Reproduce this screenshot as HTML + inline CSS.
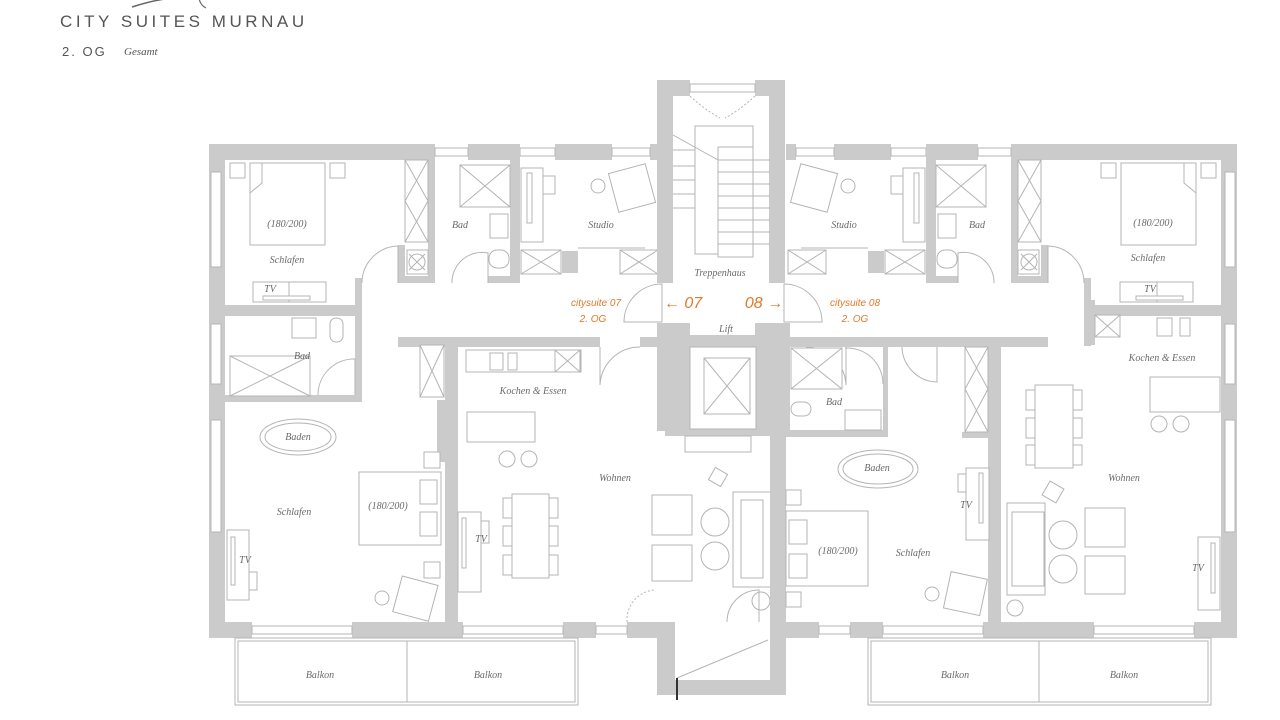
<!DOCTYPE html>
<html><head><meta charset="utf-8"><style>
html,body{margin:0;padding:0;background:#fff;width:1280px;height:720px;overflow:hidden}
svg{display:block}
.w{fill:#cbcbcb}
.l{fill:none;stroke:#b4b4b4;stroke-width:1}
.f{fill:#fff;stroke:#b4b4b4;stroke-width:1}
.t{font-family:"Liberation Serif",serif;font-style:italic;font-size:10px;fill:#6a6a6a;text-anchor:middle}
.o{font-family:"Liberation Sans",sans-serif;font-style:italic;fill:#e07a2a;text-anchor:middle}
</style></head><body>
<svg width="1280" height="720" viewBox="0 0 1280 720" xmlns="http://www.w3.org/2000/svg">
<path d="M132 7 Q160 -2 178 -2" class="l" style="stroke:#666;stroke-width:1.5"/>
<path d="M199 -2 Q200 5 206 8" class="l" style="stroke:#666;stroke-width:1.2"/>
<text x="60" y="27" font-family="Liberation Sans,sans-serif" font-size="17" fill="#555" letter-spacing="3.9" textLength="248">CITY SUITES MURNAU</text>
<text x="62" y="56" font-family="Liberation Sans,sans-serif" font-size="13" fill="#555" letter-spacing="2">2. OG</text>
<text x="124" y="55" font-family="Liberation Serif,serif" font-style="italic" font-size="11" fill="#555">Gesamt</text>

<g id="half">
 <rect class="w" x="209" y="144" width="226" height="16"/>
 <rect class="w" x="468" y="144" width="52" height="16"/>
 <rect class="w" x="555" y="144" width="57" height="16"/>
 <rect class="w" x="650" y="144" width="10" height="16"/>
 <rect class="f" x="435" y="148" width="33" height="8"/>
 <rect class="f" x="520" y="148" width="35" height="8"/>
 <rect class="f" x="612" y="148" width="38" height="8"/>
 <rect class="w" x="209" y="144" width="16" height="494"/>
 <rect class="f" x="211" y="172" width="10" height="95"/>
 <rect class="f" x="211" y="324" width="10" height="60"/>
 <rect class="f" x="211" y="420" width="10" height="112"/>
 <rect class="w" x="225" y="305" width="130" height="11"/>
 <rect class="w" x="355" y="278" width="7" height="68"/>
 <rect class="w" x="428" y="160" width="7" height="122"/>
 <rect class="w" x="398" y="245" width="7" height="38"/>
 <rect class="w" x="398" y="276" width="37" height="7"/>
 <rect class="w" x="510" y="144" width="10" height="139"/>
 <rect class="w" x="488" y="276" width="32" height="7"/>
 <rect class="w" x="562" y="251" width="16" height="22"/>
 <rect class="w" x="398" y="337" width="202" height="10"/>
 <rect class="w" x="640" y="337" width="25" height="10"/>
 <rect class="w" x="209" y="622" width="43" height="16"/>
 <rect class="w" x="352" y="622" width="111" height="16"/>
 <rect class="w" x="563" y="622" width="33" height="16"/>
 <rect class="w" x="627" y="622" width="33" height="16"/>
 <rect class="f" x="252" y="626" width="100" height="8"/>
 <rect class="f" x="463" y="626" width="100" height="8"/>
 <rect class="f" x="596" y="626" width="31" height="8"/>
 <rect class="f" x="235" y="638" width="343" height="67"/>
 <rect class="l" x="238" y="641" width="337" height="61"/>
 <line class="l" x1="407" y1="641" x2="407" y2="702"/>
 <rect class="f" x="230" y="163" width="15" height="15"/>
 <rect class="f" x="330" y="163" width="15" height="15"/>
 <rect class="f" x="260" y="165" width="22" height="20"/>
 <rect class="f" x="293" y="165" width="22" height="20"/>
 <rect class="f" x="250" y="163" width="75" height="82"/>
 <path class="l" d="M250 193 L262 183 L262 163"/>
 <rect class="f" x="253" y="282" width="73" height="20"/>
 <line class="l" x1="289" y1="282" x2="289" y2="302"/>
 <rect class="f" x="263" y="296" width="47" height="4"/>
 <rect class="f" x="405" y="160" width="23" height="82"/>
 <path class="l" d="M405 160 L428 201 L405 242 M428 160 L405 201 L428 242"/>
 <rect class="f" x="407" y="250" width="21" height="24"/>
 <circle class="l" cx="417" cy="262" r="8"/><path class="l" d="M409 254 L425 270 M425 254 L409 270"/>
 <rect class="f" x="460" y="165" width="50" height="42"/>
 <path class="l" d="M460 165 L510 207 M510 165 L460 207"/>
 <rect class="f" x="490" y="214" width="18" height="24"/>
 <rect class="f" x="489" y="250" width="20" height="18" rx="8"/>
 <path class="l" d="M452 283 A30 30 0 0 1 488 253 L488 283"/>
 <path class="l" d="M362 283 A37 37 0 0 1 398 246 L398 283"/>
 <rect class="f" x="521" y="168" width="22" height="74"/>
 <rect class="f" x="527" y="173" width="5" height="50"/>
 <rect class="f" x="543" y="176" width="12" height="18"/>
 <circle class="l" cx="598" cy="186" r="7"/>
 <rect class="f" x="613" y="168" width="38" height="40" transform="rotate(-15 632 188)"/>
 <rect class="f" x="521" y="250" width="40" height="24"/><path class="l" d="M521 250 L561 274 M561 250 L521 274"/>
 <rect class="f" x="620" y="250" width="38" height="24"/><path class="l" d="M620 250 L658 274 M658 250 L620 274"/>
 <line class="l" x1="578" y1="248" x2="645" y2="248"/>
 <path class="l" d="M624 322 A38 38 0 0 1 662 284 L662 322 Z"/>
 <path class="l" d="M600 347 L600 385 A40 40 0 0 1 640 347"/>
</g>
<use href="#half" transform="translate(1446,0) scale(-1,1)"/>

<rect class="w" x="355" y="316" width="7" height="86"/>
<rect class="w" x="225" y="395" width="137" height="7"/>
<rect class="f" x="230" y="356" width="80" height="40"/><path class="l" d="M230 356 L310 396 M310 356 L230 396"/>
<rect class="f" x="292" y="318" width="24" height="20"/>
<rect class="f" x="330" y="318" width="13" height="24" rx="6"/>
<path class="l" d="M318 395 A36 36 0 0 1 355 359 L355 395"/>
<rect class="w" x="445" y="340" width="13" height="282"/>
<rect class="w" x="437" y="400" width="10" height="62"/>
<rect class="f" x="420" y="345" width="24" height="52"/><path class="l" d="M420 345 L444 397 M444 345 L420 397"/>
<rect class="f" x="466" y="350" width="115" height="22"/>
<rect class="f" x="490" y="353" width="13" height="17"/><rect class="f" x="508" y="353" width="9" height="17"/>
<rect class="f" x="555" y="350" width="25" height="22"/><path class="l" d="M555 350 L580 372 M580 350 L555 372"/>
<ellipse class="f" cx="298" cy="437" rx="38" ry="18"/><ellipse class="l" cx="298" cy="437" rx="33" ry="14"/>
<rect class="f" x="424" y="452" width="16" height="16"/>
<rect class="f" x="359" y="472" width="82" height="73"/>
<rect class="f" x="420" y="480" width="17" height="24"/><rect class="f" x="420" y="512" width="17" height="24"/>
<rect class="f" x="424" y="562" width="16" height="16"/>
<rect class="f" x="227" y="530" width="22" height="70"/><rect class="f" x="231" y="537" width="4" height="48"/>
<rect class="f" x="249" y="572" width="8" height="18"/>
<circle class="l" cx="382" cy="598" r="7"/>
<rect class="f" x="397" y="580" width="37" height="37" transform="rotate(15 415 598)"/>
<rect class="f" x="467" y="412" width="68" height="30"/>
<circle class="l" cx="507" cy="459" r="8"/><circle class="l" cx="529" cy="459" r="8"/>
<rect class="f" x="458" y="512" width="23" height="80"/><rect class="f" x="462" y="518" width="4" height="50"/>
<rect class="f" x="481" y="521" width="8" height="22"/>
<rect class="f" x="512" y="494" width="37" height="84"/>
<rect class="f" x="503" y="498" width="9" height="20"/><rect class="f" x="503" y="526" width="9" height="20"/><rect class="f" x="503" y="555" width="9" height="20"/>
<rect class="f" x="549" y="498" width="9" height="20"/><rect class="f" x="549" y="526" width="9" height="20"/><rect class="f" x="549" y="555" width="9" height="20"/>
<rect class="f" x="711" y="470" width="14" height="14" transform="rotate(30 718 477)"/>
<rect class="f" x="652" y="495" width="40" height="40"/><rect class="f" x="652" y="545" width="40" height="36"/>
<circle class="l" cx="715" cy="522" r="14"/><circle class="l" cx="715" cy="556" r="14"/>
<rect class="f" x="733" y="492" width="38" height="95"/>
<rect class="f" x="741" y="500" width="22" height="78"/>
<circle class="l" cx="761" cy="601" r="9"/>
<path class="l" d="M727 622 A32 32 0 0 1 759 590 L759 622"/>
<path class="l" d="M627 622 A30 30 0 0 1 654 590" stroke-dasharray="2 2"/>

<rect class="w" x="657" y="80" width="33" height="16"/>
<rect class="w" x="755" y="80" width="30" height="16"/>
<rect class="f" x="690" y="84" width="65" height="8"/>
<rect class="w" x="657" y="80" width="16" height="203"/>
<rect class="w" x="769" y="80" width="16" height="203"/>
<rect class="w" x="657" y="323" width="33" height="108"/>
<rect class="w" x="755" y="323" width="35" height="108"/>
<rect class="w" x="687" y="335" width="72" height="12"/>
<rect class="w" x="665" y="428" width="120" height="8"/>
<rect class="w" x="770" y="428" width="16" height="200"/>
<rect class="f" x="690" y="347" width="66" height="82"/>
<rect class="f" x="704" y="358" width="46" height="56"/><path class="l" d="M704 358 L750 414 M750 358 L704 414"/>
<rect class="f" x="685" y="436" width="66" height="16"/>
<rect class="f" x="695" y="126" width="58" height="128"/>
<rect class="f" x="718" y="147" width="35" height="110"/>
<g class="l">
<line x1="718" y1="160" x2="770" y2="160"/><line x1="718" y1="172" x2="770" y2="172"/><line x1="718" y1="184" x2="770" y2="184"/><line x1="718" y1="196" x2="770" y2="196"/><line x1="718" y1="208" x2="770" y2="208"/><line x1="718" y1="220" x2="770" y2="220"/><line x1="718" y1="232" x2="770" y2="232"/><line x1="718" y1="244" x2="770" y2="244"/>
<line x1="673" y1="150" x2="695" y2="150"/><line x1="673" y1="166" x2="695" y2="166"/><line x1="673" y1="180" x2="695" y2="180"/><line x1="673" y1="194" x2="695" y2="194"/><line x1="673" y1="208" x2="695" y2="208"/>
<line x1="673" y1="135" x2="718" y2="160"/>
<path d="M690 96 Q705 110 720 118 M755 96 Q740 110 725 118" stroke-dasharray="2 2"/>
</g>
<rect class="w" x="657" y="622" width="18" height="73"/>
<rect class="w" x="770" y="622" width="16" height="73"/>
<rect class="w" x="657" y="680" width="129" height="15"/>
<line class="l" x1="677" y1="678" x2="768" y2="640"/>
<line x1="677" y1="678" x2="677" y2="700" stroke="#333" stroke-width="2"/>

<rect class="w" x="785" y="337" width="117" height="10"/>
<rect class="w" x="937" y="337" width="111" height="10"/>
<rect class="w" x="883" y="347" width="5" height="90"/>
<rect class="w" x="785" y="430" width="103" height="7"/>
<rect class="w" x="988" y="340" width="13" height="282"/>
<rect class="w" x="962" y="432" width="28" height="6"/>
<rect class="f" x="965" y="347" width="23" height="85"/><path class="l" d="M965 347 L988 389 L965 432 M988 347 L965 389 L988 432"/>
<rect class="f" x="791" y="348" width="51" height="41"/><path class="l" d="M791 348 L842 389 M842 348 L791 389"/>
<rect class="f" x="791" y="402" width="20" height="14" rx="7"/>
<rect class="f" x="845" y="410" width="36" height="20"/>
<path class="l" d="M845 348 A36 36 0 0 1 883 384"/>
<path class="l" d="M902 347 A36 36 0 0 0 937 382 L937 347"/>
<ellipse class="f" cx="878" cy="469" rx="40" ry="19"/><ellipse class="l" cx="878" cy="469" rx="35" ry="15"/>
<rect class="f" x="786" y="490" width="15" height="15"/>
<rect class="f" x="786" y="511" width="82" height="75"/>
<rect class="f" x="789" y="520" width="18" height="24"/><rect class="f" x="789" y="554" width="18" height="24"/>
<rect class="f" x="786" y="592" width="15" height="15"/>
<rect class="f" x="966" y="468" width="23" height="72"/><rect class="f" x="979" y="473" width="4" height="50"/>
<rect class="f" x="958" y="474" width="8" height="18"/>
<circle class="l" cx="932" cy="594" r="7"/>
<rect class="f" x="947" y="575" width="37" height="37" transform="rotate(12 965 593)"/>
<rect class="w" x="1087" y="300" width="8" height="45"/>
<rect class="f" x="1095" y="315" width="25" height="22"/><path class="l" d="M1095 315 L1120 337 M1120 315 L1095 337"/>
<rect class="f" x="1157" y="318" width="15" height="18"/><rect class="f" x="1180" y="318" width="10" height="18"/>
<rect class="f" x="1150" y="377" width="70" height="35"/>
<circle class="l" cx="1159" cy="424" r="8"/><circle class="l" cx="1181" cy="424" r="8"/>
<rect class="f" x="1035" y="385" width="38" height="83"/>
<rect class="f" x="1026" y="390" width="9" height="20"/><rect class="f" x="1026" y="418" width="9" height="20"/><rect class="f" x="1026" y="445" width="9" height="20"/>
<rect class="f" x="1073" y="390" width="9" height="20"/><rect class="f" x="1073" y="418" width="9" height="20"/><rect class="f" x="1073" y="445" width="9" height="20"/>
<rect class="f" x="1045" y="484" width="16" height="16" transform="rotate(30 1053 492)"/>
<rect class="f" x="1007" y="503" width="38" height="92"/><rect class="f" x="1012" y="512" width="32" height="74"/>
<circle class="l" cx="1063" cy="535" r="14"/><circle class="l" cx="1063" cy="569" r="14"/>
<rect class="f" x="1085" y="508" width="40" height="39"/><rect class="f" x="1085" y="556" width="40" height="38"/>
<circle class="l" cx="1015" cy="608" r="8"/>
<rect class="f" x="1198" y="537" width="22" height="73"/><rect class="f" x="1211" y="543" width="4" height="50"/>

<g class="t">
<text x="287" y="227">(180/200)</text><text x="287" y="263">Schlafen</text><text x="270" y="292">TV</text>
<text x="460" y="228">Bad</text><text x="601" y="228">Studio</text><text x="302" y="359">Bad</text>
<text x="533" y="394">Kochen &amp; Essen</text><text x="298" y="440">Baden</text>
<text x="388" y="509">(180/200)</text><text x="294" y="515">Schlafen</text><text x="245" y="563">TV</text>
<text x="481" y="542">TV</text><text x="615" y="481">Wohnen</text>
<text x="320" y="678">Balkon</text><text x="488" y="678">Balkon</text>
<text x="720" y="276">Treppenhaus</text><text x="726" y="332">Lift</text>
<text x="844" y="228">Studio</text><text x="977" y="228">Bad</text><text x="1153" y="226">(180/200)</text>
<text x="1148" y="261">Schlafen</text><text x="1150" y="292">TV</text>
<text x="1162" y="361">Kochen &amp; Essen</text><text x="834" y="405">Bad</text><text x="877" y="471">Baden</text>
<text x="966" y="508">TV</text><text x="838" y="554">(180/200)</text><text x="913" y="556">Schlafen</text>
<text x="1124" y="481">Wohnen</text><text x="1198" y="571">TV</text>
<text x="955" y="678">Balkon</text><text x="1124" y="678">Balkon</text>
</g>
<g class="o">
<text x="596" y="306" font-size="10">citysuite 07</text><text x="593" y="322" font-size="10">2. OG</text>
<text x="855" y="306" font-size="10">citysuite 08</text><text x="855" y="322" font-size="10">2. OG</text>
<text x="683" y="308" font-size="16">← 07</text><text x="764" y="308" font-size="16">08 →</text>
</g>
</svg>
</body></html>
